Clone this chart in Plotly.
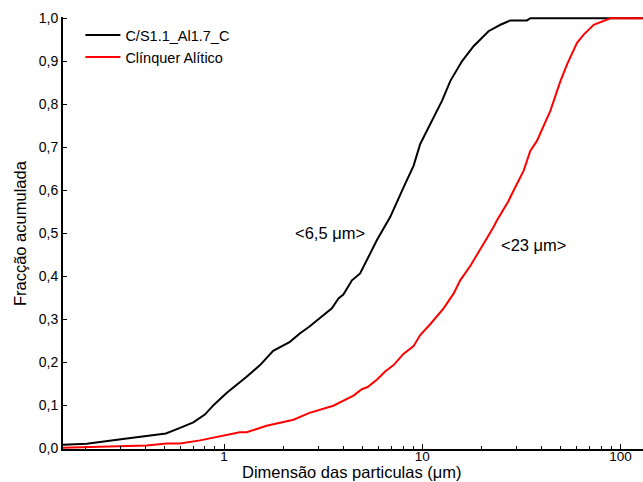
import plotly.graph_objects as go
import math

# Black series: C/S1.1_Al1.7_C
x_black = [0.154, 0.203, 0.309, 0.407, 0.509, 0.60, 0.70, 0.80, 0.89, 1.03, 1.20, 1.30, 1.52, 1.77,
           2.15, 2.42, 2.69, 2.83, 3.17, 3.50, 3.78, 4.0, 4.42, 4.86, 5.90, 6.89, 8.20, 9.04, 9.77,
           10.97, 11.87, 12.58, 13.85, 15.86, 18.16, 21.6, 24.8, 27.8, 33.8, 35.1, 60.0, 130.0]
y_black = [0.009, 0.011, 0.022, 0.030, 0.035, 0.048, 0.061, 0.079, 0.102, 0.129, 0.153, 0.167, 0.194, 0.227,
           0.248, 0.268, 0.283, 0.291, 0.310, 0.326, 0.349, 0.358, 0.391, 0.407, 0.484, 0.538, 0.615, 0.657, 0.708,
           0.754, 0.786, 0.808, 0.854, 0.900, 0.935, 0.970, 0.985, 0.995, 0.995, 1.0, 1.0, 1.0]

# Red series: Clínquer Alítico
x_red = [0.154, 0.266, 0.407, 0.513, 0.60, 0.757, 0.955, 1.20, 1.30, 1.64, 2.24, 2.42, 2.62, 2.70, 3.56,
         4.00, 4.50, 4.96, 5.3, 5.90, 6.50, 7.17, 8.04, 9.04, 9.77, 10.97, 12.82, 14.39, 15.55, 17.5, 19.6,
         20.4, 22.9, 23.8, 27.3, 27.8, 32.5, 35.1, 37.9, 44.3, 49.8, 53.8, 60.4, 65.3, 73.3, 85.7, 89.0, 130.0]
y_red = [0.002, 0.005, 0.007, 0.012, 0.012, 0.019, 0.028, 0.038, 0.038, 0.053, 0.067, 0.073, 0.079, 0.083, 0.0995,
         0.112, 0.123, 0.138, 0.143, 0.160, 0.179, 0.194, 0.220, 0.238, 0.264, 0.289, 0.326, 0.360, 0.391, 0.425, 0.461,
         0.476, 0.515, 0.530, 0.576, 0.584, 0.646, 0.692, 0.715, 0.785, 0.854, 0.893, 0.943, 0.962, 0.985, 0.997, 1.0, 1.0]

series_names = ["C/S1.1_Al1.7_C", "Clínquer Alítico"]
y_tick_vals = [0.0, 0.1, 0.2, 0.3, 0.4, 0.5, 0.6, 0.7, 0.8, 0.9, 1.0]
y_tick_text = ["0,0", "0,1", "0,2", "0,3", "0,4", "0,5", "0,6", "0,7", "0,8", "0,9", "1,0"]
x_tick_vals = [1, 10, 100]
x_tick_text = ["1", "10", "100"]
x_minor_vals = [m * d for d in (0.1, 1, 10) for m in range(2, 10)]

FONT = "Arial, Liberation Sans, sans-serif"

fig = go.Figure()
fig.add_trace(go.Scatter(x=x_black, y=y_black, mode="lines", name=series_names[0],
                         line=dict(color="black", width=2)))
fig.add_trace(go.Scatter(x=x_red, y=y_red, mode="lines", name=series_names[1],
                         line=dict(color="#ff0000", width=2)))

fig.add_annotation(x=math.log10(3.43), y=0.50, text="<6,5 μm>", showarrow=False,
                   font=dict(size=16.5, color="black", family=FONT))
fig.add_annotation(x=math.log10(36.3), y=0.472, text="<23 μm>", showarrow=False,
                   font=dict(size=16.5, color="black", family=FONT))
# axis titles
fig.add_annotation(xref="paper", yref="paper", x=0.498, y=-0.054, text="Dimensão das particulas (μm)",
                   showarrow=False, xanchor="center", yanchor="middle",
                   font=dict(size=16.5, color="black", family=FONT))
fig.add_annotation(xref="paper", yref="paper", x=-0.074, y=0.5, text="Fracção acumulada",
                   showarrow=False, xanchor="center", yanchor="middle", textangle=-90,
                   font=dict(size=16.5, color="black", family=FONT))

fig.update_layout(
    width=643, height=482,
    margin=dict(l=63, r=0, t=17, b=33, autoexpand=False),
    paper_bgcolor="white", plot_bgcolor="white",
    font=dict(family=FONT, color="black", size=14),
    showlegend=True,
    legend=dict(x=0.03, y=0.995, xanchor="left", yanchor="top",
                bgcolor="rgba(0,0,0,0)", font=dict(size=14.5, family=FONT),
                tracegroupgap=0, itemwidth=35),
)
fig.update_xaxes(
    type="log", range=[math.log10(0.154), math.log10(130)], automargin=False,
    showline=True, linecolor="black", linewidth=2, showgrid=False, zeroline=False,
    ticks="inside", ticklen=5, tickcolor="black", tickwidth=1, ticklabelstandoff=-6,
    tickvals=x_tick_vals, ticktext=x_tick_text, tickfont=dict(size=13.5),
    minor=dict(ticks="inside", ticklen=3, tickcolor="black", tickvals=x_minor_vals, showgrid=False),
)
fig.update_yaxes(
    range=[-0.001, 1.003], automargin=False,
    showline=True, linecolor="black", linewidth=2, showgrid=False, zeroline=False,
    ticks="inside", ticklen=4, tickcolor="black", tickwidth=1,
    tickvals=y_tick_vals, ticktext=y_tick_text, tickfont=dict(size=14),
)

fig.write_html("out.html", config={"displayModeBar": False},
               post_script="document.body.style.margin='0';document.body.style.padding='0';")
